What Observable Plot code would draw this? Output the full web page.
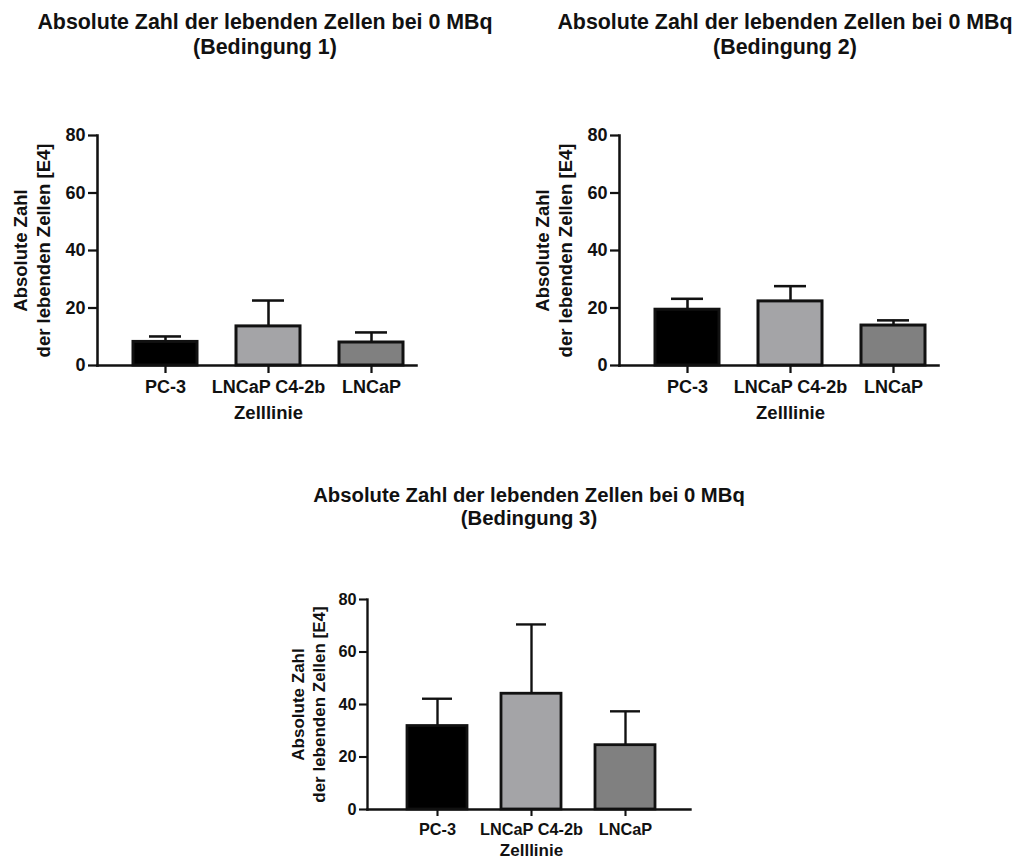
<!DOCTYPE html>
<html>
<head>
<meta charset="utf-8">
<script src="https://cdn.jsdelivr.net/npm/d3@7"></script>
<script src="https://cdn.jsdelivr.net/npm/@observablehq/plot@0.6"></script>
<style>
  html, body { margin: 0; padding: 0; background: #fff; }
  #page { position: relative; width: 1031px; height: 863px; overflow: hidden; background: #fff;
          font-family: "Liberation Sans", Arial, sans-serif; color: #111; }
  .title { position: absolute; text-align: center; font-weight: bold; line-height: 1.15; white-space: nowrap;
           transform: translateX(-50%); }
  .panel { position: absolute; }
</style>
</head>
<body>
<div id="page"></div>
<script>
// ---- data ----
const categories = ["PC-3", "LNCaP C4-2b", "LNCaP"];
const colors = ["#000000", "#a4a4a7", "#808080"];
const yTicks = [0, 20, 40, 60, 80];
const titles = [
  "Absolute Zahl der lebenden Zellen bei 0 MBq\n(Bedingung 1)",
  "Absolute Zahl der lebenden Zellen bei 0 MBq\n(Bedingung 2)",
  "Absolute Zahl der lebenden Zellen bei 0 MBq\n(Bedingung 3)"
];
const yLabel = "Absolute Zahl\nder lebenden Zellen [E4]";
const xLabel = "Zelllinie";
// means and standard deviations (E4 cells)
const mean1 = [8.2, 13.6, 8.0];
const sd1   = [1.9, 9.0, 3.5];
const mean2 = [19.4, 22.3, 13.9];
const sd2   = [3.8, 5.3, 1.8];
const mean3 = [31.8, 44.1, 24.5];
const sd3   = [10.4, 26.4, 12.9];

const page = document.getElementById("page");

function makePanel(means, sds, o) {
  const data = categories.map((c, i) => ({cat: c, mean: means[i], top: means[i] + sds[i]}));
  const fs = o.fontSize;
  const chart = Plot.plot({
    width: o.width, height: o.height,
    marginLeft: o.ml, marginRight: o.mr, marginTop: o.mt, marginBottom: o.mb,
    style: {fontFamily: "Liberation Sans, Arial, sans-serif", fontWeight: "bold", fontSize: fs + "px", color: "#111", background: "transparent", overflow: "visible"},
    x: {domain: categories, paddingInner: o.pi, paddingOuter: o.po, align: o.align, axis: null},
    y: {domain: [0, 80], axis: null},
    color: {domain: categories, range: colors},
    marks: [
      Plot.ruleX(data, {x: "cat", y1: "mean", y2: "top", stroke: "#111", strokeWidth: o.sw * 0.85}),
      Plot.tickY(data, {x: "cat", y: "top", stroke: "#111", strokeWidth: o.sw * 0.85, insetLeft: o.cap, insetRight: o.cap}),
      Plot.barY(data, {x: "cat", y: "mean", fill: "cat", stroke: "#111", strokeWidth: o.sw}),
      Plot.frame({anchor: "left", stroke: "#111", strokeWidth: o.sw * 0.85}),
      Plot.frame({anchor: "bottom", stroke: "#111", strokeWidth: o.sw * 0.85}),
      Plot.axisY({ticks: yTicks, tickSize: o.yTick, tickPadding: 3, tickFormat: d => d, fontSize: fs, strokeWidth: o.sw * 0.75, stroke: "#111", fill: "#111"}),
      Plot.axisX({tickSize: o.xTick, tickPadding: o.xPad, fontSize: fs, strokeWidth: o.sw * 0.75, stroke: "#111", fill: "#111", label: null}),
      Plot.text([xLabel], {x: () => categories[1], frameAnchor: "bottom", dy: o.xLabDy, lineAnchor: "top", fontSize: o.labelSize, fill: "#111"}),
      Plot.text([yLabel], {frameAnchor: "left", dx: o.yLabDx, rotate: -90, lineAnchor: "middle", textAnchor: "middle", lineHeight: o.lh, fontSize: o.labelSize, fill: "#111"})
    ]
  });
  const div = document.createElement("div");
  div.className = "panel";
  div.style.left = o.left + "px";
  div.style.top = o.top + "px";
  div.appendChild(chart);
  page.appendChild(div);
}

function addTitle(text, cx, top, size) {
  const d = document.createElement("div");
  d.className = "title";
  d.style.left = cx + "px";
  d.style.top = top + "px";
  d.style.fontSize = size + "px";
  d.innerHTML = text.split("\n").join("<br>");
  page.appendChild(d);
}

const big = {width: 440, height: 330, ml: 97, mr: 24, mt: 35, mb: 65,
  pi: 0.379, po: 0.238, align: 0.735, sw: 3, cap: 16, yTick: 9, xTick: 8, xPad: 7,
  fontSize: 18, labelSize: 18.5, xLabDy: 40, yLabDx: -66, lh: 1.25};

makePanel(mean1, sd1, {...big, left: 0, top: 100});
makePanel(mean2, sd2, {...big, left: 522, top: 100});
makePanel(mean3, sd3, {width: 440, height: 303, ml: 87, mr: 30, mt: 39, mb: 54,
  pi: 0.367, po: 0.40, align: 0.533, sw: 2.8, cap: 15, yTick: 8, xTick: 7, xPad: 7,
  fontSize: 16.3, labelSize: 17, xLabDy: 34, yLabDx: -60, lh: 1.25, left: 280, top: 560});

addTitle(titles[0], 265, 10, 21.4);
addTitle(titles[1], 785, 10, 21.4);
addTitle(titles[2], 529, 484, 20.3);
</script>
</body>
</html>
